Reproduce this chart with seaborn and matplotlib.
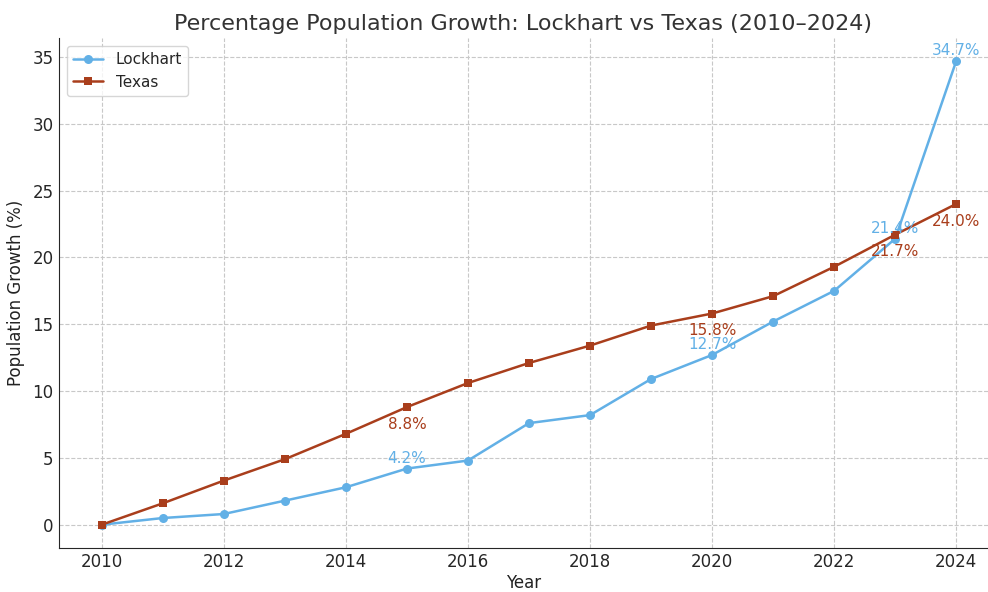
import numpy as np
import pandas as pd
import matplotlib
matplotlib.use("Agg")
import matplotlib.pyplot as plt
import seaborn as sns

years = list(range(2010, 2025))
lockhart = [0.0, 0.5, 0.8, 1.8, 2.8, 4.2, 4.8, 7.6, 8.2, 10.9, 12.7, 15.2, 17.5, 21.4, 34.7]
texas = [0.0, 1.6, 3.3, 4.9, 6.8, 8.8, 10.6, 12.1, 13.4, 14.9, 15.8, 17.1, 19.3, 21.7, 24.0]
label_years = [2015, 2020, 2023, 2024]

sns.set_style("ticks")
plt.rcParams['font.family'] = ['DejaVu Sans']

df = pd.DataFrame({'Year': years, 'Lockhart': lockhart, 'Texas': texas})

c_lock = '#62B0E6'
c_tex = '#A93E1C'

fig = plt.figure(figsize=(9.88, 5.92), dpi=100)
ax = fig.add_axes([0.0597, 0.0745, 0.9403, 0.861])

sns.lineplot(data=df, x='Year', y='Lockhart', marker='o', color=c_lock, linewidth=1.8,
             markersize=6.5, markeredgewidth=0, label='Lockhart', ax=ax)
sns.lineplot(data=df, x='Year', y='Texas', marker='s', color=c_tex, linewidth=1.8,
             markersize=6, markeredgewidth=0, label='Texas', ax=ax)

for yr in label_years:
    i = years.index(yr)
    ax.annotate(f"{lockhart[i]:.1f}%", (yr, lockhart[i]), xytext=(0, 2), textcoords='offset points',
                ha='center', va='bottom', color=c_lock, fontsize=11)
    ax.annotate(f"{texas[i]:.1f}%", (yr, texas[i]), xytext=(0, -7), textcoords='offset points',
                ha='center', va='top', color=c_tex, fontsize=11)

ax.set_xlim(2009.3, 2024.52)
ax.set_ylim(-1.735, 36.4)
ax.set_xticks(range(2010, 2025, 2))
ax.grid(True, linestyle='--', color='#c8c8c8', linewidth=0.8)
ax.tick_params(labelsize=12, length=0, pad=4)
ax.set_title('Percentage Population Growth: Lockhart vs Texas (2010–2024)', fontsize=16, color='#333333')
ax.set_xlabel('Year', fontsize=12, color='#222222', labelpad=2)
ax.set_ylabel('Population Growth (%)', fontsize=12, color='#222222', labelpad=5)
sns.despine(ax=ax)
ax.legend(loc='upper left', fontsize=11, frameon=True)

fig.savefig('out.png', dpi=100)
